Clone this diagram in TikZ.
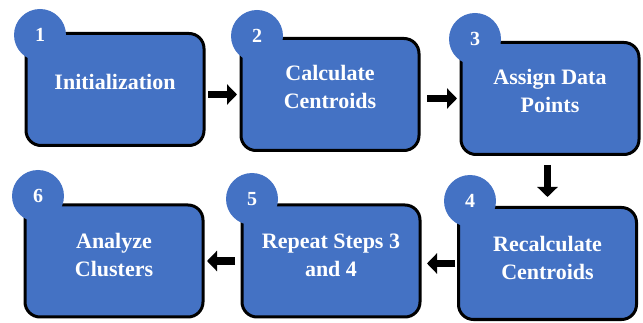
\documentclass[tikz,border=0pt]{standalone}
\usepackage{fontspec}
\setmainfont{Liberation Serif}
\usetikzlibrary{arrows.meta}

\definecolor{stepblue}{HTML}{4472C4}

\tikzset{
  stepbox/.style={draw=black, line width=3pt, fill=stepblue, rounded corners=15pt,
    minimum width=178pt, minimum height=112pt, inner sep=0pt},
  steptext/.style={text=white, font=\bfseries\fontsize{22}{28}\selectfont, align=center, inner sep=0pt},
  stepnum/.style={circle, fill=stepblue, minimum size=52pt, inner sep=0pt,
    text=white, font=\bfseries\fontsize{20}{20}\selectfont},
  flow/.style={line width=7.5pt, -{Triangle[length=10pt,width=20pt]}},
}

\begin{document}
\begin{tikzpicture}[x=1pt,y=-1pt]

  \useasboundingbox (0,0) rectangle (643,323);

  % boxes
  \node[stepbox] (init) at (115,89.5) {};
  \node[stepbox] (calc) at (330,94.5) {};
  \node[stepbox] (assign) at (550,98.5) {};
  \node[stepbox] (recalc) at (547.5,263.5) {};
  \node[stepbox] (repeat) at (331,261) {};
  \node[stepbox] (analyze) at (114,261) {};

  % step numbers
  \node[stepnum] (n1) at (40,35) {1};
  \node[stepnum] (n2) at (257,36) {2};
  \node[stepnum] (n3) at (475,39) {3};
  \node[stepnum] (n4) at (470,201) {4};
  \node[stepnum] (n5) at (252,199) {5};
  \node[stepnum] (n6) at (38,196) {6};

  % labels
  \node[steptext] (t1) at ([yshift=8pt]init.center) {Initialization};
  \node[steptext] (t2) at ([yshift=8pt]calc.center) {Calculate\\Centroids};
  \node[steptext] (t3) at ([yshift=8pt]assign.center) {Assign Data\\Points};
  \node[steptext] (t4) at ([yshift=6pt]recalc.center) {Recalculate\\Centroids};
  \node[steptext] (t5) at ([yshift=6pt]repeat.center) {Repeat Steps 3\\and 4};
  \node[steptext] (t6) at ([yshift=6pt]analyze.center) {Analyze\\Clusters};

  % arrows
  \draw[flow, shorten <=2.5pt, shorten >=2.5pt] (calc.west -| init.east) -- (calc.west);
  \draw[flow, shorten <=6.5pt, shorten >=2.5pt] (assign.west -| calc.east) -- (assign.west);
  \draw[flow, shorten <=9pt, shorten >=9pt] (assign.south -| recalc.north) -- (recalc.north);
  \draw[flow, shorten <=2pt, shorten >=5.5pt] (recalc.west) -- (recalc.west -| repeat.east);
  \draw[flow, shorten <=5.5pt, shorten >=2.5pt] (repeat.west) -- (repeat.west -| analyze.east);

\end{tikzpicture}
\end{document}
